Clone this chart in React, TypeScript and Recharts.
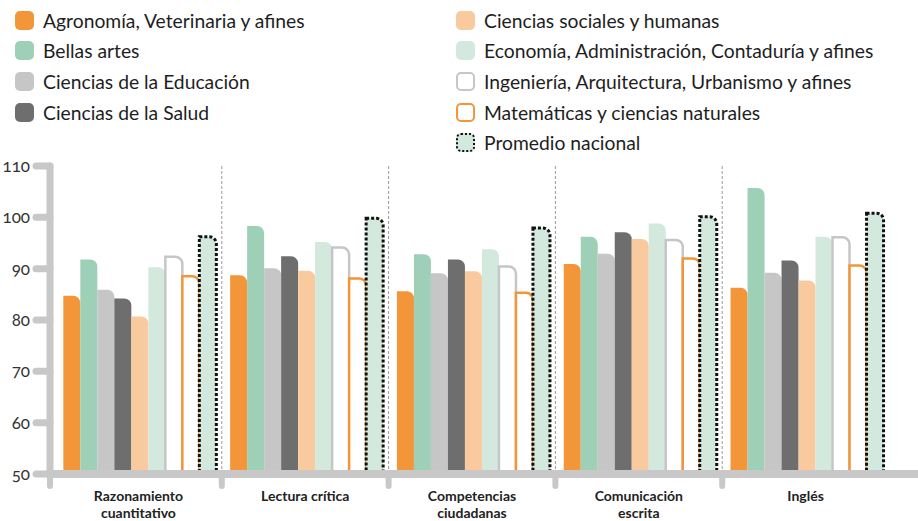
import React from 'react';
import { BarChart, Bar, XAxis, YAxis, ReferenceLine } from 'recharts';

const categories = [
  'Razonamiento cuantitativo',
  'Lectura crítica',
  'Competencias ciudadanas',
  'Comunicación escrita',
  'Inglés',
];
const categoryLines = [
  ['Razonamiento', 'cuantitativo'],
  ['Lectura crítica'],
  ['Competencias', 'ciudadanas'],
  ['Comunicación', 'escrita'],
  ['Inglés'],
];
const yTicks = [50, 60, 70, 80, 90, 100, 110];

const agronomia = [84.7, 88.7, 85.6, 90.9, 86.3];
const bellasArtes = [91.8, 98.3, 92.8, 96.2, 105.7];
const educacion = [85.9, 90.1, 89.1, 92.9, 89.2];
const salud = [84.2, 92.4, 91.8, 97.1, 91.6];
const sociales = [80.7, 89.6, 89.5, 95.8, 87.7];
const economia = [90.3, 95.2, 93.8, 98.8, 96.2];
const ingenieria = [92.3, 94.1, 90.4, 95.6, 96.1];
const matematicas = [88.5, 88.1, 85.3, 92.0, 90.6];
const promedio = [96.2, 99.8, 97.9, 100.1, 100.8];

const series = [
  { key: 'agro', name: 'Agronomía, Veterinaria y afines', values: agronomia, fill: '#F39539', stroke: 'none' },
  { key: 'bellas', name: 'Bellas artes', values: bellasArtes, fill: '#9ED0B8', stroke: 'none' },
  { key: 'educ', name: 'Ciencias de la Educación', values: educacion, fill: '#C6C6C6', stroke: 'none' },
  { key: 'salud', name: 'Ciencias de la Salud', values: salud, fill: '#6E6E6E', stroke: 'none' },
  { key: 'soc', name: 'Ciencias sociales y humanas', values: sociales, fill: '#F9CA9E', stroke: 'none' },
  { key: 'eco', name: 'Economía, Administración, Contaduría y afines', values: economia, fill: '#D3E9DE', stroke: 'none' },
  { key: 'ing', name: 'Ingeniería, Arquitectura, Urbanismo y afines', values: ingenieria, fill: '#FFFFFF', stroke: '#C6C6C6' },
  { key: 'mat', name: 'Matemáticas y ciencias naturales', values: matematicas, fill: '#FFFFFF', stroke: '#F39539' },
  { key: 'prom', name: 'Promedio nacional', values: promedio, fill: '#D3E9DE', stroke: '#111111', dotted: true },
];

const data = categories.map((c, i) => {
  const row: any = { category: c };
  series.forEach((s) => {
    row[s.key] = s.values[i];
  });
  return row;
});

const FONT = 'Lato, "Open Sans", sans-serif';
const AXIS = '#C8C8C8';

const XTick = (props: any) => {
  const { x, y, payload, index } = props;
  const i = payload?.index ?? index;
  const half = payload?.offset || 83.4;
  const bx = i === 0 ? x - half - 5 : x - half;
  const lines = categoryLines[i] || [payload.value];
  return (
    <g>
      <line x1={bx} x2={bx} y1={y} y2={y + 12} stroke={AXIS} strokeWidth={6} strokeLinecap="round" />
      <text textAnchor="middle" fontFamily={FONT} fontWeight={700} fontSize={14} fill="#222">
        {lines.map((l, k) => (
          <tspan key={k} x={x} y={y + 27 + k * 16.8}>
            {l}
          </tspan>
        ))}
      </text>
    </g>
  );
};

const Swatch = ({ s }: { s: any }) => (
  <span
    style={{
      display: 'inline-block',
      boxSizing: 'border-box',
      width: 19,
      height: 19,
      borderRadius: 5,
      background: s.fill,
      border: s.stroke === 'none' ? 'none' : `2.5px ${s.dotted ? 'dotted' : 'solid'} ${s.stroke}`,
      marginRight: 9,
    }}
  />
);

const LegendBlock = () => (
  <div style={{ position: 'absolute', left: 0, top: 0, width: 918, fontFamily: FONT, fontSize: 19.3, color: '#1E1E1E' }}>
    {series.map((s, i) => {
      const col = i < 4 ? 0 : 1;
      const row = i < 4 ? i : i - 4;
      return (
        <div
          key={s.key}
          style={{
            position: 'absolute',
            left: col === 0 ? 15 : 456,
            top: 20 + row * 30.7 - 12,
            height: 24,
            display: 'flex',
            alignItems: 'center',
            whiteSpace: 'nowrap',
          }}
        >
          <Swatch s={s} />
          <span>{s.name}</span>
        </div>
      );
    })}
  </div>
);

export default function App() {
  return (
    <div style={{ position: 'absolute', left: 0, top: 0, width: 918, height: 521, background: '#fff' }}>
      <BarChart
        width={918}
        height={521}
        data={data}
        margin={{ top: 166, right: 0, bottom: 17, left: 0 }}
        barCategoryGap="5%"
        barGap={0}
      >
        <XAxis
          dataKey="category"
          height={30}
          padding={{ left: 5, right: 29 }}
          axisLine={{ stroke: AXIS, strokeWidth: 8 }}
          tickLine={false}
          tickSize={0}
          tickMargin={0}
          interval={0}
          tick={<XTick />}
        />
        <YAxis
          width={50}
          domain={[50, 110]}
          ticks={yTicks}
          allowDataOverflow
          axisLine={{ stroke: AXIS, strokeWidth: 7, strokeLinecap: 'round' }}
          tickLine={{ stroke: AXIS, strokeWidth: 7, strokeLinecap: 'round' }}
          tickSize={14}
          tickMargin={6}
          tick={{ fill: '#333', fontSize: 17, fontFamily: FONT, style: { fontVariantNumeric: 'oldstyle-nums' } }}
        />
        {categories.slice(1).map((c) => (
          <ReferenceLine key={c} x={c} position="start" stroke="#9A9A9A" strokeDasharray="3 2" strokeWidth={1} />
        ))}
        {series.map((s) => (
          <Bar
            key={s.key}
            dataKey={s.key}
            name={s.name}
            fill={s.fill}
            stroke={s.stroke}
            strokeWidth={s.dotted ? 3 : 2.5}
            strokeDasharray={s.dotted ? '3 2' : undefined}
            radius={[0, 7, 0, 0]}
            isAnimationActive={false}
          />
        ))}
      </BarChart>
      <LegendBlock />
    </div>
  );
}
